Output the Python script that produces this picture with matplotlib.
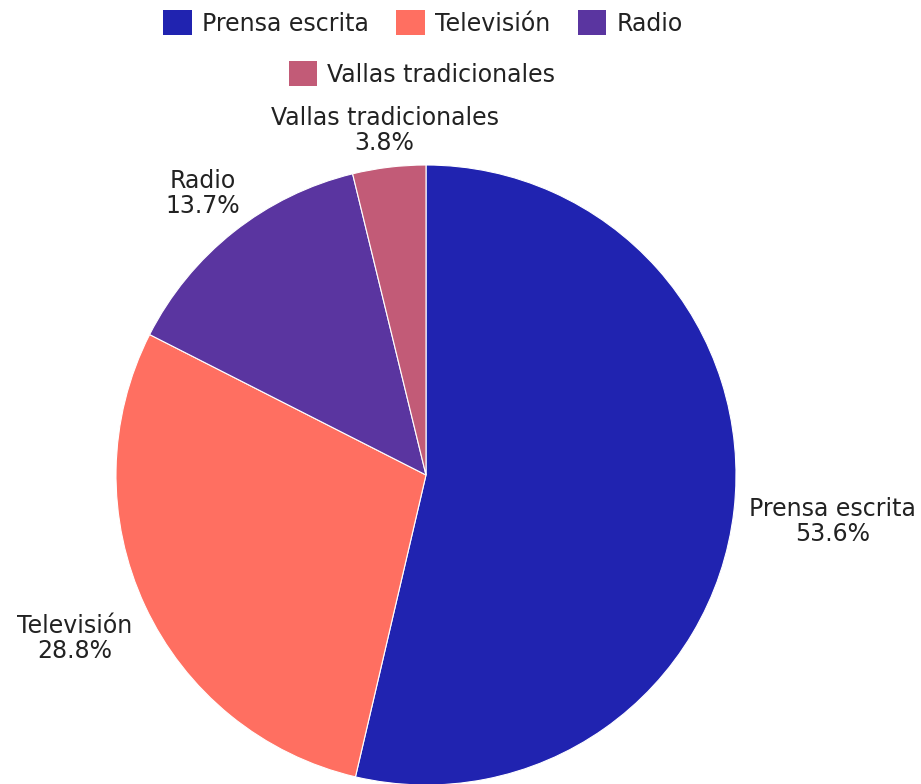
import matplotlib.pyplot as plt
import numpy as np
from matplotlib.patches import Patch

# Distribución de la inversión publicitaria por medio
medios = ['Prensa escrita', 'Televisión', 'Radio', 'Vallas tradicionales']
porcentajes = [53.6, 28.8, 13.7, 3.8]
colores = ['#2023B0', '#FF6F61', '#5A35A0', '#C25B77']
# distancia de cada etiqueta al centro (en radios)
dist_etiqueta = [1.32, 1.25, 1.16, 1.12]

plt.rcParams['font.family'] = ['DejaVu Sans']

fig = plt.figure(figsize=(9.21, 7.84), dpi=100)
ax = fig.add_axes([0, 0, 1, 1])

centro = (426, 784 - 475)
radio = 310
wedges, _ = ax.pie(porcentajes, colors=colores, startangle=90, counterclock=False,
                   center=centro, radius=radio, frame=True,
                   wedgeprops=dict(linewidth=0.8, edgecolor='white'))

for w, nombre, p, d in zip(wedges, medios, porcentajes, dist_etiqueta):
    ang = np.deg2rad((w.theta1 + w.theta2) / 2)
    x = centro[0] + d * radio * np.cos(ang)
    y = centro[1] + d * radio * np.sin(ang)
    ax.text(x, y, f'{nombre}\n{p}%', ha='center', va='center',
            fontsize=17, color='#222222', linespacing=1.05)

ax.set_xlim(0, 921)
ax.set_ylim(0, 784)
ax.set_aspect('equal')
ax.axis('off')

handles = [Patch(facecolor=c, edgecolor='none') for c in colores]
leg_kw = dict(loc='center', frameon=False, fontsize=17, handlelength=1.2, handleheight=1.2,
              handletextpad=0.45, borderpad=0)
leg1 = fig.legend(handles[:3], medios[:3], bbox_to_anchor=(423 / 921, 1 - 23 / 784),
                  ncol=3, columnspacing=1.15, **leg_kw)
leg2 = fig.legend(handles[3:], medios[3:], bbox_to_anchor=(422 / 921, 1 - 74 / 784),
                  ncol=1, **leg_kw)
for leg in (leg1, leg2):
    for t in leg.get_texts():
        t.set_color('#222222')

fig.savefig('out.png', dpi=100)
